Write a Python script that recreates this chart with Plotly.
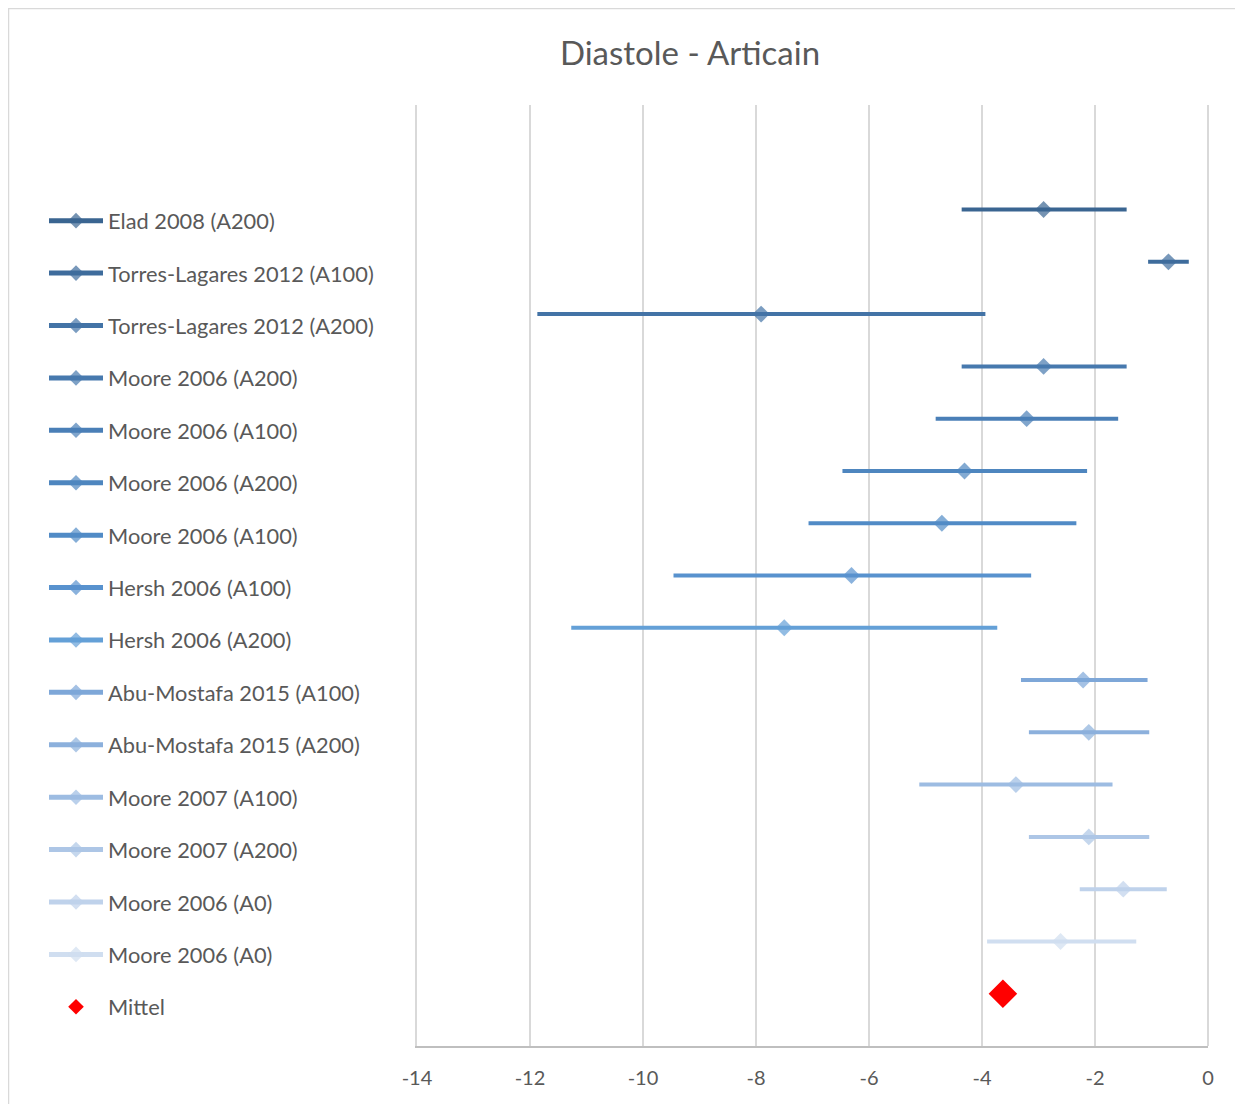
import plotly.graph_objects as go

# ---- data ----
studies = [
    "Elad 2008 (A200)",
    "Torres-Lagares 2012 (A100)",
    "Torres-Lagares 2012 (A200)",
    "Moore 2006 (A200)",
    "Moore 2006 (A100)",
    "Moore 2006 (A200)",
    "Moore 2006 (A100)",
    "Hersh 2006 (A100)",
    "Hersh 2006 (A200)",
    "Abu-Mostafa 2015 (A100)",
    "Abu-Mostafa 2015 (A200)",
    "Moore 2007 (A100)",
    "Moore 2007 (A200)",
    "Moore 2006 (A0)",
    "Moore 2006 (A0)",
]
lower = [-4.36, -1.06, -11.87, -4.36, -4.82, -6.47, -7.07, -9.46, -11.27, -3.31, -3.17, -5.11, -3.17, -2.27, -3.91]
mean = [-2.91, -0.70, -7.91, -2.91, -3.21, -4.31, -4.71, -6.31, -7.50, -2.21, -2.11, -3.40, -2.11, -1.50, -2.61]
upper = [-1.44, -0.34, -3.94, -1.44, -1.59, -2.14, -2.33, -3.13, -3.73, -1.07, -1.04, -1.69, -1.04, -0.73, -1.27]
row_pos = [16, 15, 14, 13, 12, 11, 10, 9, 8, 7, 6, 5, 4, 3, 2]

mittel_label = "Mittel"
mittel_value = -3.63
mittel_pos = 1

colors = ["#3A6591", "#3E6C9C", "#4373A6", "#4779AE", "#4A7FB7", "#4E86BF", "#518BC6",
          "#5892CE", "#64A0D7", "#7EA7D8", "#8CB0DC", "#9DBCE2", "#ADC6E6", "#BFD2EB", "#D0DEF0"]

x_ticks = [-14, -12, -10, -8, -6, -4, -2, 0]

FONT = "Lato, 'Open Sans', sans-serif"
TEXT = "#595959"

fig = go.Figure()
for i, name in enumerate(studies):
    fig.add_trace(go.Scatter(
        x=[lower[i], mean[i], upper[i]],
        y=[row_pos[i]] * 3,
        mode="lines+markers",
        name=name,
        legendgroup=f"g{i}",
        line=dict(color=colors[i], width=4),
        marker=dict(symbol="diamond", size=[0, 13, 0], color=colors[i],
                    line=dict(width=0)),
        hoverinfo="skip",
    ))

fig.add_trace(go.Scatter(
    x=[mittel_value], y=[mittel_pos],
    mode="markers", name=mittel_label, legendgroup="mittel",
    marker=dict(symbol="diamond", size=22, color="#FF0000", line=dict(width=0)),
))

W, H = 1233, 1105
ml, mr, mt, mb = 409, 33, 97, 67
pw, ph = W - ml - mr, H - mt - mb

fig.update_layout(
    width=W, height=H,
    margin=dict(l=ml, r=mr, t=mt, b=mb),
    paper_bgcolor="white", plot_bgcolor="white",
    title=dict(text="Diastole - Articain", x=(690 - 8) / W, xanchor="center",
               y=1 - (53 - 8) / H, yanchor="middle",
               font=dict(family=FONT, size=33, color=TEXT)),
    font=dict(family=FONT, size=20, color=TEXT),
    xaxis=dict(range=[-14, 0], tickvals=x_ticks, ticktext=[str(v) for v in x_ticks],
               showgrid=True, gridcolor="#D9D9D9", gridwidth=1.5,
               zeroline=True, zerolinecolor="#D9D9D9", zerolinewidth=1.5,
               showline=True, linecolor="#BFBFBF", linewidth=2,
               ticks="", ticklabelstandoff=13,
               tickfont=dict(family=FONT, size=20, color=TEXT), fixedrange=True),
    yaxis=dict(range=[0, 18], showgrid=False, zeroline=False, showticklabels=False,
               showline=True, linecolor="#D9D9D9", linewidth=1.5, fixedrange=True),
    legend=dict(x=(36 - ml) / pw, xanchor="left", y=1 - (192 - mt) / ph, yanchor="top",
                traceorder="grouped", tracegroupgap=21.07, itemsizing="constant",
                itemwidth=54, font=dict(family=FONT, size=21.8, color=TEXT),
                bgcolor="rgba(0,0,0,0)"),
    showlegend=True,
    shapes=[dict(type="rect", xref="paper", yref="paper",
                 x0=-(ml - 0.5) / pw, x1=1 + (mr - 3) / pw,
                 y0=-(mb + 5) / ph, y1=1 + (mt - 0.5) / ph,
                 line=dict(color="#D9D9D9", width=1.5), fillcolor="rgba(0,0,0,0)", layer="below")],
)

fig.write_html("out.html")
